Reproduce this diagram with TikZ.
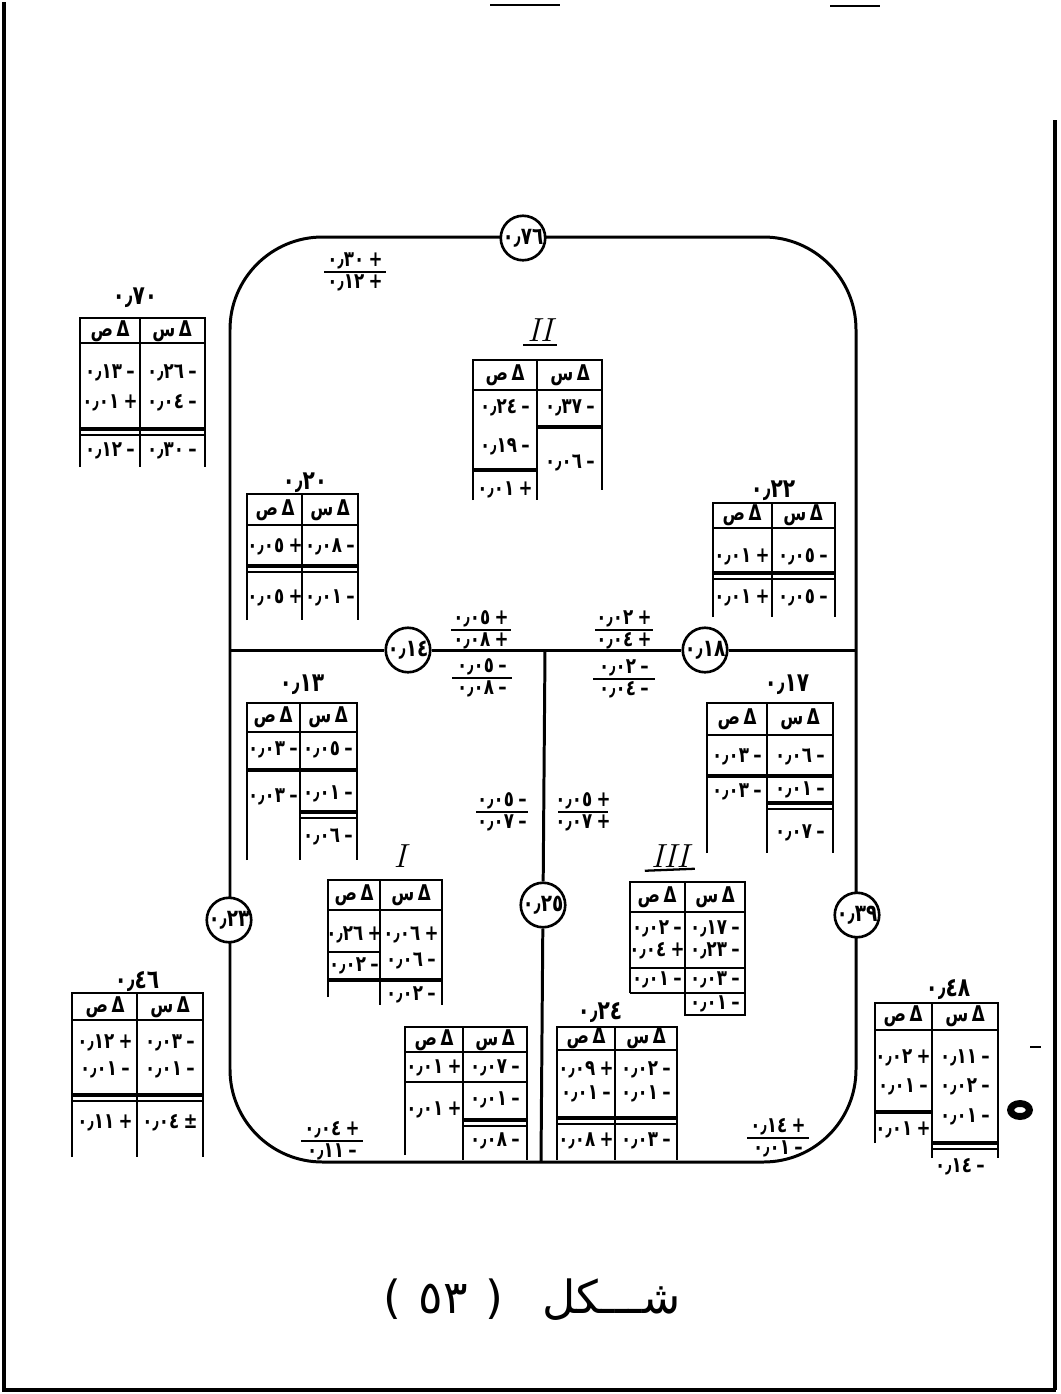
\documentclass[tikz,border=0pt]{standalone}
\usepackage{fontspec}
\usepackage{graphicx}
\newfontfamily\af[Script=Arabic]{DejaVu Sans}
\newfontfamily\lf{DejaVu Sans}
\tikzset{
  ln/.style={line width=1.7pt},
  tl/.style={line width=1.3pt},
  dbl/.style={line width=2.6pt},
  fl/.style={line width=1.5pt},
  num/.style={font=\af\fontsize{9.5}{11}\selectfont\bfseries, inner sep=0pt},
  lbl/.style={font=\af\fontsize{11.5}{13}\selectfont\bfseries, inner sep=0pt},
  circ/.style={draw, circle, line width=1.5pt, fill=white, minimum size=0.82cm, inner sep=0pt,
               font=\af\fontsize{10.5}{11}\selectfont\bfseries},
  rom/.style={font=\fontsize{19}{21}\selectfont\itshape, inner sep=0pt},
}
\newcommand\ar[1]{\hbox{\af #1}}
\newcommand\tall[1]{\scalebox{1}[1.3]{#1}}
\newcommand\sn[2]{\tall{\ar{#1}\hbox to 2.5pt{}\ar{#2}}}
\newcommand\nv[5]{\node[num] (#1) at (#2,#3) {\sn{#4}{#5}};}
\newcommand\hd[4]{\node[num] (#1) at (#2,#3) {\tall{\ar{#4}\hbox to 2pt{}\ar{Δ}}};}
\newcommand\frc[8]{%
  \node[num] (#1n) at (#2,#3-11) {\sn{#5}{#6}};
  \node[num] (#1d) at (#2,#3+11) {\sn{#7}{#8}};
  \draw[fl] (#2-#4,#3) -- (#2+#4,#3);}
\begin{document}
\begin{tikzpicture}[x=0.02cm,y=-0.02cm]
\useasboundingbox (0,0) rectangle (1061,1394);
% frame
\draw[line width=2.6pt] (4,2) -- (4,1390) -- (1056,1390);
\draw[line width=2.2pt] (1055,120) -- (1055,1390);
\draw[line width=1.2pt] (490,5) -- (560,5) (830,6) -- (880,6);

% main rounded outline
\draw[ln, rounded corners=1.85cm] (230,237) rectangle (856,1162);
\coordinate (hl) at (230,650);
\coordinate (hr) at (856,650);
\coordinate (jt) at (545,650);
\coordinate (jb) at (541,1162);
\node[circ] (c76) at (523,238) {\tall{\ar{٠٫٧٦}}};
\node[circ] (c14) at (408,650) {\tall{\ar{٠٫١٤}}};
\node[circ] (c18) at (705,650) {\tall{\ar{٠٫١٨}}};
\node[circ] (c25) at (543,905) {\tall{\ar{٠٫٢٥}}};
\node[circ] (c23) at (229,920) {\tall{\ar{٠٫٢٣}}};
\node[circ] (c39) at (857,915) {\tall{\ar{٠٫٣٩}}};
\draw[ln] (hl) -- (c14) -- (c18) -- (hr);
\draw[ln] (jt) -- (c25) -- (jb);

% ---------- fractions
\frc{fa}{355}{272}{31}{٠٫٣٠}{+}{٠٫١٢}{+}
\frc{fb}{481}{630}{30}{٠٫٠٥}{+}{٠٫٠٨}{+}
\frc{fc}{482}{678}{30}{٠٫٠٥}{–}{٠٫٠٨}{–}
\frc{fd}{624}{630}{29}{٠٫٠٢}{+}{٠٫٠٤}{+}
\frc{fe}{624}{679}{31}{٠٫٠٢}{–}{٠٫٠٤}{–}
\frc{ff}{502}{812}{26}{٠٫٠٥}{–}{٠٫٠٧}{–}
\frc{fg}{583}{812}{25}{٠٫٠٥}{+}{٠٫٠٧}{+}
\frc{fh}{332}{1141}{31}{٠٫٠٤}{+}{٠٫١١}{–}
\frc{fi}{778}{1138}{31}{٠٫١٤}{+}{٠٫٠١}{–}

% ---------- table 70
\node[lbl] (l70) at (135,298) {\tall{\ar{٠٫٧٠}}};
\draw[tl] (80,467) -- (80,318) -- (205,318) -- (205,467) (140,318) -- (140,467) (80,343) -- (205,343);
\draw[dbl] (80,429) -- (205,429); \draw[tl] (80,435) -- (205,435);
\hd{a0}{110}{331}{ص} \hd{a1}{172}{331}{س}
\nv{a2}{110}{373}{٠٫١٣}{–} \nv{a3}{172}{373}{٠٫٢٦}{–}
\nv{a4}{110}{403}{٠٫٠١}{+} \nv{a5}{172}{403}{٠٫٠٤}{–}
\nv{a6}{110}{451}{٠٫١٢}{–} \nv{a7}{172}{451}{٠٫٣٠}{–}

% ---------- table II
\node[rom] (l2) at (540,330) {II};
\draw[tl] (l2.south west) ++(-4,3) -- ++(34,0);
\draw[tl] (473,500) -- (473,360) -- (602,360) -- (602,490) (537,360) -- (537,500) (473,390) -- (602,390);
\draw[dbl] (473,470) -- (537,470); \draw[dbl] (537,427) -- (602,427);
\hd{b0}{505}{375}{ص} \hd{b1}{570}{375}{س}
\nv{b2}{505}{408}{٠٫٢٤}{–} \nv{b3}{570}{408}{٠٫٣٧}{–}
\nv{b4}{505}{447}{٠٫١٩}{–} \nv{b5}{570}{463}{٠٫٠٦}{–}
\nv{b6}{505}{490}{٠٫٠١}{+}

% ---------- table 20
\node[lbl] (l20) at (305,483) {\tall{\ar{٠٫٢٠}}};
\draw[tl] (247,620) -- (247,494) -- (358,494) -- (358,620) (302,494) -- (302,620) (247,525) -- (358,525);
\draw[dbl] (247,566) -- (358,566); \draw[tl] (247,572) -- (358,572);
\hd{c0}{275}{510}{ص} \hd{c1}{330}{510}{س}
\nv{c2}{275}{547}{٠٫٠٥}{+} \nv{c3}{330}{547}{٠٫٠٨}{–}
\nv{c4}{275}{598}{٠٫٠٥}{+} \nv{c5}{330}{598}{٠٫٠١}{–}

% ---------- table 22
\node[lbl] (l22) at (773,491) {\tall{\ar{٠٫٢٢}}};
\draw[tl] (713,617) -- (713,503) -- (835,503) -- (835,617) (772,503) -- (772,617) (713,528) -- (835,528);
\draw[dbl] (713,573) -- (835,573); \draw[tl] (713,579) -- (835,579);
\hd{d0}{742}{515}{ص} \hd{d1}{803}{515}{س}
\nv{d2}{742}{557}{٠٫٠١}{+} \nv{d3}{803}{557}{٠٫٠٥}{–}
\nv{d4}{742}{598}{٠٫٠١}{+} \nv{d5}{803}{598}{٠٫٠٥}{–}

% ---------- table 13
\node[lbl] (l13) at (302,685) {\tall{\ar{٠٫١٣}}};
\draw[tl] (247,860) -- (247,703) -- (357,703) -- (357,860) (300,703) -- (300,860) (247,732) -- (357,732);
\draw[dbl] (247,770) -- (357,770); \draw[dbl] (300,812) -- (357,812); \draw[tl] (300,818) -- (357,818);
\hd{e0}{273}{717}{ص} \hd{e1}{328}{717}{س}
\nv{e2}{273}{750}{٠٫٠٣}{–} \nv{e3}{328}{750}{٠٫٠٥}{–}
\nv{e4}{273}{797}{٠٫٠٣}{–} \nv{e5}{328}{794}{٠٫٠١}{–}
\nv{e6}{328}{837}{٠٫٠٦}{–}

% ---------- table 17
\node[lbl] (l17) at (787,685) {\tall{\ar{٠٫١٧}}};
\draw[tl] (707,853) -- (707,703) -- (833,703) -- (833,853) (767,703) -- (767,853) (707,735) -- (833,735);
\draw[dbl] (707,776) -- (833,776); \draw[dbl] (767,803) -- (833,803); \draw[tl] (767,809) -- (833,809);
\hd{g0}{737}{719}{ص} \hd{g1}{800}{719}{س}
\nv{g2}{737}{757}{٠٫٠٣}{–} \nv{g3}{800}{757}{٠٫٠٦}{–}
\nv{g4}{737}{792}{٠٫٠٣}{–} \nv{g5}{800}{790}{٠٫٠١}{–}
\nv{g6}{800}{833}{٠٫٠٧}{–}

% ---------- table I
\node[rom] (l1) at (400,856) {I};
\draw[tl] (328,997) -- (328,880) -- (442,880) -- (442,1005) (380,880) -- (380,1005) (328,910) -- (442,910);
\draw[tl] (328,952) -- (380,952); \draw[dbl] (328,980) -- (442,980);
\hd{h0}{354}{895}{ص} \hd{h1}{411}{895}{س}
\nv{h2}{354}{935}{٠٫٢٦}{+} \nv{h3}{411}{935}{٠٫٠٦}{+}
\nv{h4}{354}{966}{٠٫٠٢}{–} \nv{h5}{411}{961}{٠٫٠٦}{–}
\nv{h6}{411}{995}{٠٫٠٢}{–}

% ---------- table III
\node[rom] (l3) at (670,856) {III};
\draw[tl] (l3.south west) ++(-6,3) -- ++(50,-2);
\draw[tl] (630,993) -- (630,882) -- (745,882) -- (745,1015) -- (685,1015) -- (685,882) (630,912) -- (745,912);
\draw[tl] (630,968) -- (745,968); \draw[tl] (630,993) -- (745,993);
\hd{k0}{657}{897}{ص} \hd{k1}{715}{897}{س}
\nv{k2}{657}{929}{٠٫٠٢}{–} \nv{k3}{715}{929}{٠٫١٧}{–}
\nv{k4}{657}{951}{٠٫٠٤}{+} \nv{k5}{715}{951}{٠٫٢٣}{–}
\nv{k6}{657}{980}{٠٫٠١}{–} \nv{k7}{715}{980}{٠٫٠٣}{–}
\nv{k8}{715}{1004}{٠٫٠١}{–}

% ---------- table 46
\node[lbl] (l46) at (137,982) {\tall{\ar{٠٫٤٦}}};
\draw[tl] (72,1157) -- (72,993) -- (203,993) -- (203,1157) (137,993) -- (137,1157) (72,1020) -- (203,1020);
\draw[dbl] (72,1095) -- (203,1095); \draw[tl] (72,1101) -- (203,1101);
\hd{m0}{105}{1007}{ص} \hd{m1}{170}{1007}{س}
\nv{m2}{105}{1043}{٠٫١٢}{+} \nv{m3}{170}{1043}{٠٫٠٣}{–}
\nv{m4}{105}{1070}{٠٫٠١}{–} \nv{m5}{170}{1070}{٠٫٠١}{–}
\nv{m6}{105}{1123}{٠٫١١}{+} \nv{m7}{170}{1123}{٠٫٠٤}{±}

% ---------- table 48
\node[lbl] (l48) at (948,990) {\tall{\ar{٠٫٤٨}}};
\draw[tl] (875,1143) -- (875,1003) -- (998,1003) -- (998,1158) (932,1003) -- (932,1158) (875,1030) -- (998,1030);
\draw[dbl] (875,1112) -- (932,1112); \draw[dbl] (932,1143) -- (998,1143); \draw[tl] (932,1149) -- (998,1149);
\hd{n0}{903}{1016}{ص} \hd{n1}{965}{1016}{س}
\nv{n2}{903}{1058}{٠٫٠٢}{+} \nv{n3}{965}{1058}{٠٫١١}{–}
\nv{n4}{903}{1087}{٠٫٠١}{–} \nv{n5}{965}{1087}{٠٫٠٢}{–}
\nv{n6}{903}{1130}{٠٫٠١}{+} \nv{n7}{965}{1117}{٠٫٠١}{–}
\nv{n8}{960}{1167}{٠٫١٤}{–}
\fill[even odd rule] (1020,1110) ellipse [x radius=13, y radius=10] (1020,1110) ellipse [x radius=6, y radius=3];
\draw[tl] (1030,1047) -- (1041,1047);

% ---------- bottom middle table
\draw[tl] (405,1155) -- (405,1027) -- (527,1027) -- (527,1160) (463,1027) -- (463,1160) (405,1052) -- (527,1052);
\draw[tl] (405,1082) -- (527,1082); \draw[dbl] (463,1120) -- (527,1120); \draw[tl] (463,1126) -- (527,1126);
\hd{p0}{434}{1040}{ص} \hd{p1}{495}{1040}{س}
\nv{p2}{434}{1068}{٠٫٠١}{+} \nv{p3}{495}{1068}{٠٫٠٧}{–}
\nv{p4}{434}{1110}{٠٫٠١}{+} \nv{p5}{495}{1100}{٠٫٠١}{–}
\nv{p6}{495}{1141}{٠٫٠٨}{–}

% ---------- table 24
\node[lbl] (l24) at (600,1013) {\tall{\ar{٠٫٢٤}}};
\draw[tl] (557,1160) -- (557,1027) -- (677,1027) -- (677,1160) (615,1027) -- (615,1160) (557,1050) -- (677,1050);
\draw[dbl] (557,1118) -- (677,1118); \draw[tl] (557,1124) -- (677,1124);
\hd{q0}{586}{1038}{ص} \hd{q1}{646}{1038}{س}
\nv{q2}{586}{1070}{٠٫٠٩}{+} \nv{q3}{646}{1070}{٠٫٠٢}{–}
\nv{q4}{586}{1094}{٠٫٠١}{–} \nv{q5}{646}{1094}{٠٫٠١}{–}
\nv{q6}{586}{1141}{٠٫٠٨}{+} \nv{q7}{646}{1141}{٠٫٠٣}{–}

% ---------- caption
\node[font=\af\fontsize{26}{30}\selectfont, inner sep=0pt] (cap) at (532,1300)
  {\hbox{\lf (}\hbox to 10pt{}\ar{٥٣}\hbox to 10pt{}\hbox{\lf )}\hbox to 22pt{}\ar{شـــكل}};
\end{tikzpicture}
\end{document}
